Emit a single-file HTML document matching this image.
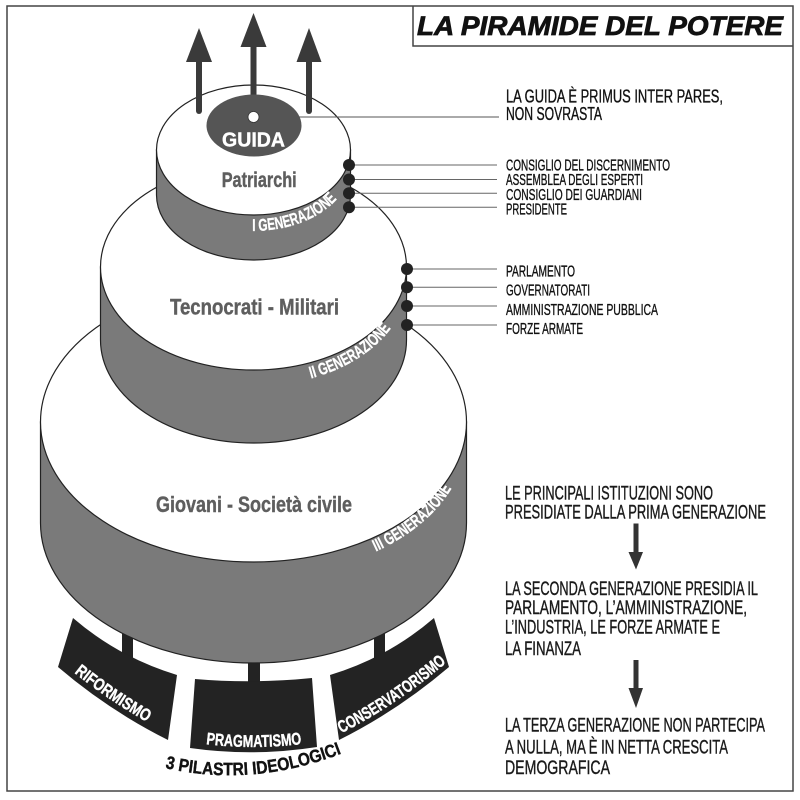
<!DOCTYPE html>
<html><head><meta charset="utf-8">
<style>html,body{margin:0;padding:0;background:#fff;}svg{display:block}</style>
</head>
<body>
<svg width="800" height="800" viewBox="0 0 800 800" xmlns="http://www.w3.org/2000/svg" font-family="'Liberation Sans', Arial, sans-serif">
<defs>
  <path id="p1" d="M156.5,166 A97,65 0 0 0 350.5,166"/>
  <path id="p2" d="M100.5,283 A153,103 0 0 0 406.5,283"/>
  <path id="p3" d="M40.5,437 A213,140 0 0 0 466.5,437"/>
  <path id="q1" d="M61,662 Q112,705 171,735"/>
  <path id="q2" d="M204,744 Q253,750 302,744"/>
  <path id="q3" d="M336,736 Q395,706.5 446,663"/>
  <path id="q4" d="M165,768 Q253,788 343,753"/>
</defs>
<rect width="800" height="800" fill="#fff"/>

<!-- frame + title -->
<rect x="7" y="6" width="786" height="785" fill="none" stroke="#444" stroke-width="1.5"/>
<path d="M413,6 V46 H793" fill="none" stroke="#444" stroke-width="1.5"/>
<text x="417" y="35" font-size="27" font-weight="bold" font-style="italic" fill="#111" stroke="#111" stroke-width="0.8" textLength="366" lengthAdjust="spacingAndGlyphs">LA PIRAMIDE DEL POTERE</text>

<!-- pillar stems -->
<rect x="122" y="615" width="11" height="50" fill="#232323"/>
<rect x="248" y="650" width="12" height="40" fill="#232323"/>
<rect x="374" y="615" width="11" height="50" fill="#232323"/>

<!-- pillar blocks -->
<path d="M73,618 Q119,657.5 177,675 L168,740 Q109,710.5 58,667 Z" fill="#232323"/>
<path d="M195,679 Q253,684 312,678 L317,747 Q253,757 190,748 Z" fill="#232323"/>
<path d="M330,675 Q388,657.5 434,618 L449,667 Q398,710.5 339,740 Z" fill="#232323"/>

<g font-weight="bold" fill="#fff" stroke="#fff" stroke-width="0.4">
<text font-size="17"><textPath href="#q1" startOffset="17" textLength="88" lengthAdjust="spacingAndGlyphs">RIFORMISMO</textPath></text>
<text font-size="17"><textPath href="#q2" startOffset="2" textLength="96" lengthAdjust="spacingAndGlyphs">PRAGMATISMO</textPath></text>
<text font-size="17"><textPath href="#q3" startOffset="6" textLength="127" lengthAdjust="spacingAndGlyphs">CONSERVATORISMO</textPath></text>
</g>
<text font-size="18" font-weight="bold" fill="#111" stroke="#111" stroke-width="0.4"><textPath href="#q4" startOffset="0" textLength="180" lengthAdjust="spacingAndGlyphs">3 PILASTRI IDEOLOGICI</textPath></text>

<!-- bottom tier -->
<path d="M40.5,422 L40.5,523 A213,140 0 0 0 466.5,523 L466.5,422 Z" fill="#7a7a7a" stroke="#222" stroke-width="1.2"/>
<ellipse cx="253.5" cy="422" rx="213" ry="140" fill="#fff" stroke="#222" stroke-width="1.2"/>
<text font-size="17" font-weight="bold" fill="#fff" stroke="#fff" stroke-width="0.3"><textPath href="#p3" startOffset="406" textLength="100" lengthAdjust="spacingAndGlyphs">III GENERAZIONE</textPath></text>
<text x="156" y="512" font-size="22" font-weight="bold" fill="#5e5e5e" stroke="#5e5e5e" stroke-width="0.4" textLength="196" lengthAdjust="spacingAndGlyphs">Giovani - Società civile</text>

<!-- middle tier -->
<path d="M100.5,267 L100.5,340 A153,103 0 0 0 406.5,340 L406.5,267 Z" fill="#7a7a7a" stroke="#222" stroke-width="1.2"/>
<ellipse cx="253.5" cy="267" rx="153" ry="103" fill="#fff" stroke="#222" stroke-width="1.2"/>
<text font-size="17" font-weight="bold" fill="#fff" stroke="#fff" stroke-width="0.3"><textPath href="#p2" startOffset="261" textLength="96" lengthAdjust="spacingAndGlyphs">II GENERAZIONE</textPath></text>
<text x="170" y="314.5" font-size="22" font-weight="bold" fill="#5e5e5e" stroke="#5e5e5e" stroke-width="0.4" textLength="169" lengthAdjust="spacingAndGlyphs">Tecnocrati - Militari</text>

<!-- top tier -->
<path d="M156.5,150 L156.5,195 A97,65 0 0 0 350.5,195 L350.5,150 Z" fill="#7a7a7a" stroke="#222" stroke-width="1.2"/>
<ellipse cx="253.5" cy="150" rx="97" ry="65" fill="#fff" stroke="#222" stroke-width="1.2"/>
<text font-size="17" font-weight="bold" fill="#fff" stroke="#fff" stroke-width="0.3"><textPath href="#p1" startOffset="127" textLength="93" lengthAdjust="spacingAndGlyphs">I GENERAZIONE</textPath></text>
<text x="221.7" y="187" font-size="21" font-weight="bold" fill="#5e5e5e" stroke="#5e5e5e" stroke-width="0.4" textLength="75" lengthAdjust="spacingAndGlyphs">Patriarchi</text>

<!-- up arrows -->
<g fill="#3a3a3a" stroke="#3a3a3a">
  <line x1="199" y1="62" x2="199" y2="111" stroke-width="6" stroke-linecap="round"/>
  <polygon points="186,62 212,62 199,28" stroke="none"/>
  <line x1="253.5" y1="47" x2="253.5" y2="98" stroke-width="6" stroke-linecap="round"/>
  <polygon points="240.5,47 266.5,47 253.5,13" stroke="none"/>
  <line x1="309" y1="62" x2="309" y2="111" stroke-width="6" stroke-linecap="round"/>
  <polygon points="296.5,62 321.5,62 309,28" stroke="none"/>
</g>

<!-- GUIDA -->
<ellipse cx="254" cy="125.5" rx="47.5" ry="31" fill="#555"/>
<line x1="258.5" y1="117" x2="499" y2="117" stroke="#555" stroke-width="1"/>
<circle cx="253.5" cy="117" r="5.5" fill="#fff" stroke="#333" stroke-width="0.8"/>
<text x="253.5" y="146.7" text-anchor="middle" font-size="20.5" font-weight="bold" fill="#fff" stroke="#fff" stroke-width="0.4" textLength="63" lengthAdjust="spacingAndGlyphs">GUIDA</text>

<g fill="#111" stroke="#111" stroke-width="0.35">
<text x="506" y="102.7" font-size="18" textLength="217" lengthAdjust="spacingAndGlyphs">LA GUIDA È PRIMUS INTER PARES,</text>
<text x="506" y="120" font-size="18" textLength="96" lengthAdjust="spacingAndGlyphs">NON SOVRASTA</text>
</g>

<!-- connector lines -->
<g stroke="#666" stroke-width="1">
  <line x1="349" y1="165" x2="497" y2="165"/>
  <line x1="349" y1="179.5" x2="497" y2="179.5"/>
  <line x1="349" y1="193.3" x2="497" y2="193.3"/>
  <line x1="349" y1="207.3" x2="497" y2="207.3"/>
  <line x1="407" y1="269" x2="497" y2="269"/>
  <line x1="407" y1="287.3" x2="497" y2="287.3"/>
  <line x1="407" y1="306" x2="497" y2="306"/>
  <line x1="407" y1="325" x2="497" y2="325"/>
</g>
<g fill="#222">
  <circle cx="349" cy="165" r="6"/>
  <circle cx="349" cy="179.5" r="6"/>
  <circle cx="349" cy="193.3" r="6"/>
  <circle cx="349" cy="207.3" r="6"/>
  <circle cx="407" cy="269" r="6"/>
  <circle cx="407" cy="287.3" r="6"/>
  <circle cx="407" cy="306" r="6"/>
  <circle cx="407" cy="325" r="6"/>
</g>

<g font-size="15.5" fill="#111" stroke="#111" stroke-width="0.35">
  <text x="506" y="170.7" textLength="164" lengthAdjust="spacingAndGlyphs">CONSIGLIO DEL DISCERNIMENTO</text>
  <text x="506" y="185" textLength="137" lengthAdjust="spacingAndGlyphs">ASSEMBLEA DEGLI ESPERTI</text>
  <text x="506" y="200" textLength="136" lengthAdjust="spacingAndGlyphs">CONSIGLIO DEI GUARDIANI</text>
  <text x="506" y="214.5" textLength="61" lengthAdjust="spacingAndGlyphs">PRESIDENTE</text>
  <text x="506" y="276.7" textLength="69" lengthAdjust="spacingAndGlyphs">PARLAMENTO</text>
  <text x="506" y="295.7" textLength="84" lengthAdjust="spacingAndGlyphs">GOVERNATORATI</text>
  <text x="506" y="315" textLength="152" lengthAdjust="spacingAndGlyphs">AMMINISTRAZIONE PUBBLICA</text>
  <text x="506" y="334" textLength="77" lengthAdjust="spacingAndGlyphs">FORZE ARMATE</text>
</g>

<!-- right explanatory text -->
<g font-size="19.5" fill="#1a1a1a" stroke="#1a1a1a" stroke-width="0.4">
  <text x="505" y="499.5" textLength="208" lengthAdjust="spacingAndGlyphs">LE PRINCIPALI ISTITUZIONI SONO</text>
  <text x="505" y="518.3" textLength="261" lengthAdjust="spacingAndGlyphs">PRESIDIATE DALLA PRIMA GENERAZIONE</text>
  <text x="505" y="595" textLength="253" lengthAdjust="spacingAndGlyphs">LA SECONDA GENERAZIONE PRESIDIA IL</text>
  <text x="505" y="614" textLength="242" lengthAdjust="spacingAndGlyphs">PARLAMENTO, L’AMMINISTRAZIONE,</text>
  <text x="505" y="633.3" textLength="215" lengthAdjust="spacingAndGlyphs">L’INDUSTRIA, LE FORZE ARMATE E</text>
  <text x="505" y="655" textLength="76" lengthAdjust="spacingAndGlyphs">LA FINANZA</text>
  <text x="505" y="731.7" textLength="260" lengthAdjust="spacingAndGlyphs">LA TERZA GENERAZIONE NON PARTECIPA</text>
  <text x="505" y="753.3" textLength="223" lengthAdjust="spacingAndGlyphs">A NULLA, MA È IN NETTA CRESCITA</text>
  <text x="505" y="774" textLength="105" lengthAdjust="spacingAndGlyphs">DEMOGRAFICA</text>
</g>

<!-- down arrows -->
<g fill="#333" stroke="#333">
  <line x1="636" y1="523.5" x2="636" y2="553" stroke-width="5"/>
  <polygon points="628.5,552 643,552 636,569.5" stroke="none"/>
  <line x1="636" y1="660" x2="636" y2="689" stroke-width="5"/>
  <polygon points="628.5,688 643,688 636,708" stroke="none"/>
</g>
</svg>
</body>
</html>
